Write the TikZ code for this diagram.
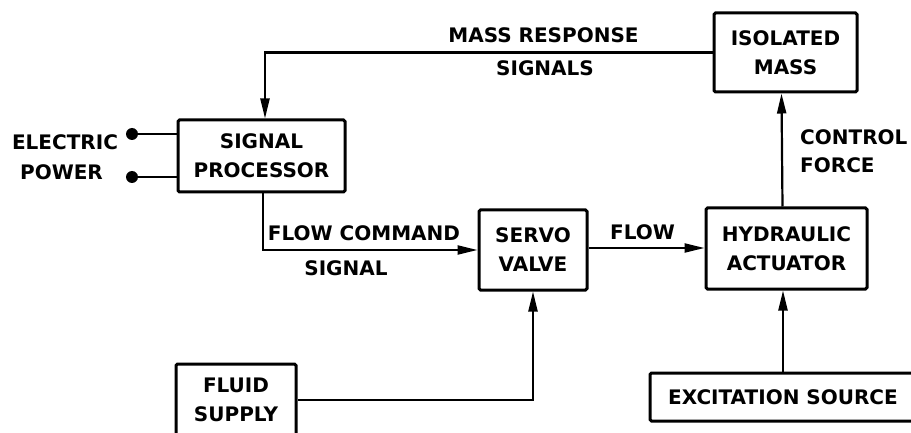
\documentclass[tikz,border=0pt]{standalone}
\usepackage{fontspec}
\setmainfont{DejaVu Sans}
\usetikzlibrary{arrows.meta}
\begin{document}
\begin{tikzpicture}[x=1pt,y=-1pt,
  txt/.style={font=\fontsize{20}{29}\selectfont\bfseries, inner sep=0pt},
  box/.style={txt, draw, line width=3pt, rounded corners=1.5pt, align=center},
  conn/.style={line width=2.2pt},
  arr/.style={conn, -{Triangle[length=20pt,width=9pt]}},
  dot/.style={circle, fill, inner sep=0pt, minimum size=12pt}]
\clip (0,0) rectangle (911,433);
\useasboundingbox (0,0) rectangle (911,433);
% boxes
\node[box, minimum width=167pt, minimum height=72pt] (sp) at (261.5,156) {SIGNAL\\PROCESSOR};
\node[box, minimum width=143pt, minimum height=79pt] (im) at (785.5,52.5) {ISOLATED\\MASS};
\node[box, minimum width=108pt, minimum height=80pt] (sv) at (533,250) {SERVO\\VALVE};
\node[box, minimum width=161pt, minimum height=81pt] (ha) at (786.5,248.5) {HYDRAULIC\\ACTUATOR};
\node[box, minimum width=120pt, minimum height=72pt] (fs) at (236,400) {FLUID\\SUPPLY};
\node[box, minimum width=266pt, minimum height=48pt] (es) at (783,397) {EXCITATION SOURCE};
% dots
\node[dot] (d1) at (132,134) {};
\node[dot] (d2) at (132,177) {};
% labels
\node[txt] (lel) at (65,142) {ELECTRIC};
\node[txt] (lpw) at (61.5,172) {POWER};
\node[txt] (lmr) at (543.5,35) {MASS RESPONSE};
\node[txt] (lsg) at (545,68) {SIGNALS};
\node[txt] (lfc) at (364,233) {FLOW COMMAND};
\node[txt] (lfs) at (346,268) {SIGNAL};
\node[txt] (lfl) at (642.5,232) {FLOW};
\node[txt, anchor=west] (lct) at (800,137) {CONTROL};
\node[txt, anchor=west] (lfo) at (800,165) {FORCE};
% connectors
\draw[arr] (im.west) -| ([xshift=3.5pt]sp.north);
\draw[arr] ([xshift=1.5pt]sp.south) |- (sv.west);
\draw[arr] ([yshift=2pt]sv.east) -- ([yshift=2pt]sv.east -| ha.west);
\draw[arr] ([xshift=-4pt]ha.north) -- ([xshift=-4pt]im.south);
\draw[arr] (es.north) -- (es.north |- ha.south);
\draw[arr] (fs.east) -| (sv.south);
\draw[conn] (d1) -- (d1 -| sp.west);
\draw[conn] (d2) -- (d2 -| sp.west);
\end{tikzpicture}
\end{document}
